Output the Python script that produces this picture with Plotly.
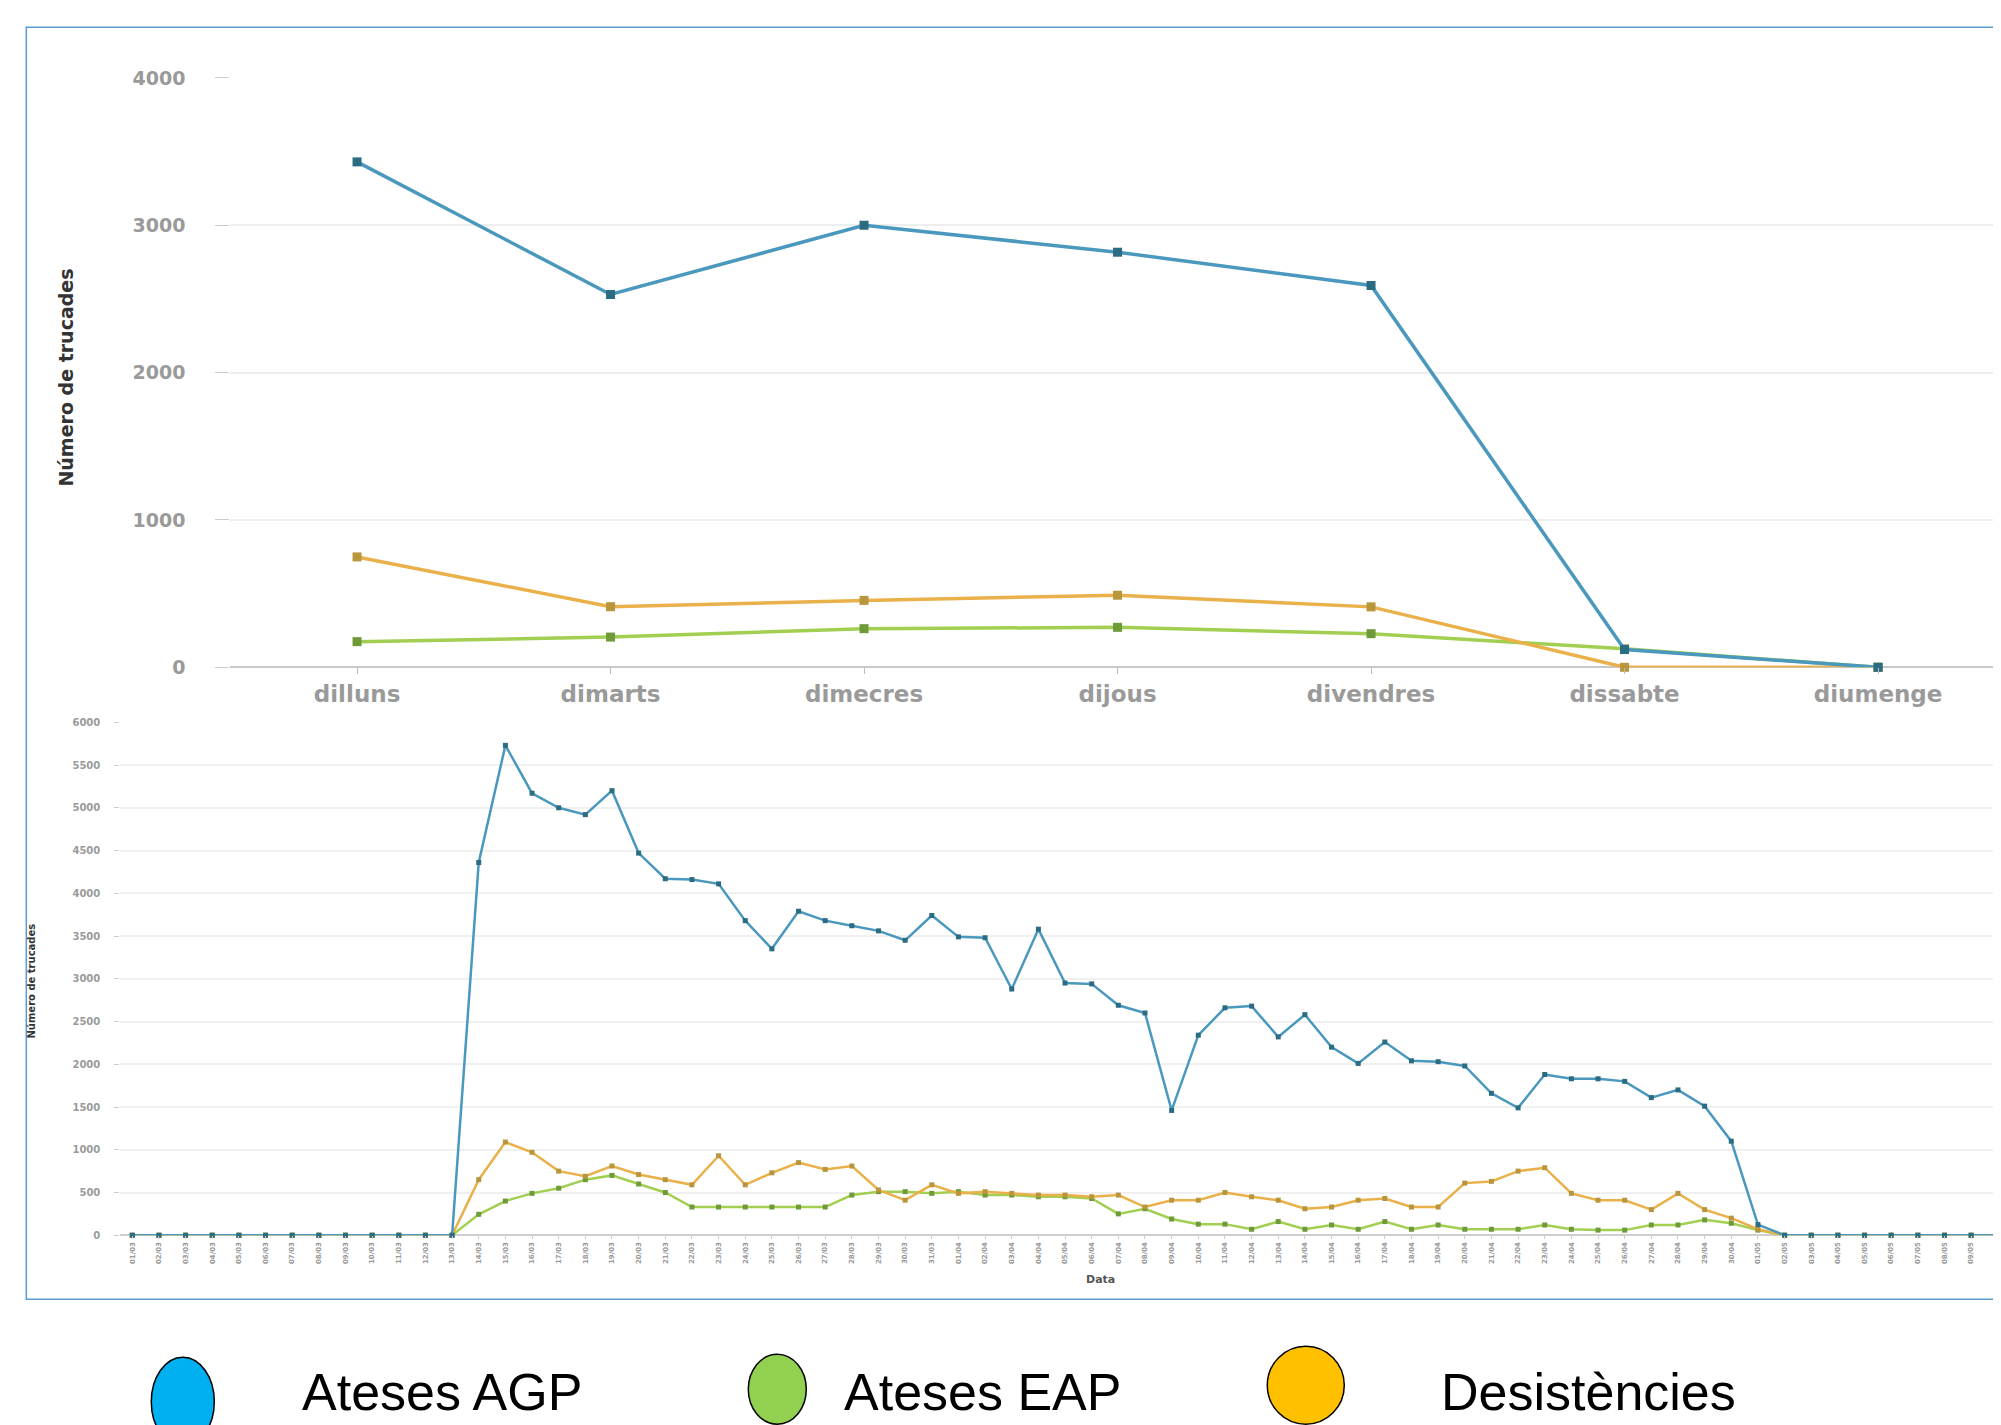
import plotly.graph_objects as go
import pandas as pd

# ---------------- data ----------------
days = ["dilluns", "dimarts", "dimecres", "dijous", "divendres", "dissabte", "diumenge"]
agp_week = [3430, 2530, 3000, 2817, 2591, 120, 0]
eap_week = [174, 205, 262, 271, 228, 125, 0]
des_week = [749, 411, 454, 489, 410, 0, 0]

dates = list(pd.date_range("2020-03-01", periods=71).strftime("%d/%m"))

agp_daily = [0, 0, 0, 0, 0, 0, 0, 0, 0, 0, 0, 0, 0,
             4360, 5730, 5170, 5000, 4920, 5200, 4470, 4170, 4160, 4110,
             3680, 3350, 3790, 3680, 3620, 3560, 3450, 3740, 3490, 3480,
             2880, 3580, 2950, 2940, 2690, 2600, 1460, 2340, 2660, 2680,
             2320, 2580, 2200, 2010, 2260, 2040, 2030, 1980, 1660, 1490,
             1880, 1830, 1830, 1800, 1610, 1700, 1510, 1100, 125,
             0, 0, 0, 0, 0, 0, 0, 0, 0]
des_daily = [0, 0, 0, 0, 0, 0, 0, 0, 0, 0, 0, 0, 0,
             650, 1090, 970, 750, 690, 810, 710, 650, 590, 930,
             590, 730, 850, 770, 810, 530, 410, 590, 490, 510,
             490, 470, 470, 450, 470, 330, 410, 410, 500, 450,
             410, 310, 330, 410, 430, 330, 330, 610, 630, 750,
             790, 490, 410, 410, 300, 490, 300, 200, 70,
             0, 0, 0, 0, 0, 0, 0, 0, 0]
eap_daily = [0, 0, 0, 0, 0, 0, 0, 0, 0, 0, 0, 0, 0,
             245, 400, 490, 550, 650, 700, 600, 500, 330, 330,
             330, 330, 330, 330, 470, 510, 510, 490, 510, 470,
             470, 450, 450, 430, 250, 310, 190, 130, 130, 70,
             160, 70, 120, 70, 160, 70, 120, 70, 70, 70,
             120, 70, 60, 60, 120, 120, 180, 140, 60,
             0, 0, 0, 0, 0, 0, 0, 0, 0]

legend_names = ["Ateses AGP", "Ateses EAP", "Desistències"]
legend_fill = ["#00B0F0", "#92D050", "#FFC000"]

# ---------------- layout helpers ----------------
W, H = 2001, 1425
DX, DY, SY = 7.7, 17.7, 0.9846   # compensation for page offset in the photographed page
def fx(r):  # target screen x (px) -> paper
    return (r - DX) / W
def fy(r):  # target screen y (px) -> paper
    return 1 - ((r - DY) / SY) / H

C_AGP, M_AGP = "#4a98bd", "#2b6c82"
C_EAP, M_EAP = "#a2cf52", "#6f9a3a"
C_DES, M_DES = "#eab04a", "#b8963e"
FONT = "Liberation Sans, Arial, sans-serif"
TICKFONT = "DejaVu Sans, Liberation Sans, sans-serif"

fig = go.Figure()

# top chart (per weekday)
for vals, lc, mc in [(eap_week, C_EAP, M_EAP), (des_week, C_DES, M_DES), (agp_week, C_AGP, M_AGP)]:
    fig.add_trace(go.Scatter(x=days, y=vals, mode="lines+markers", xaxis="x", yaxis="y",
                             line=dict(color=lc, width=3.5),
                             marker=dict(symbol="square", size=9, color=mc),
                             cliponaxis=False, showlegend=False))

# bottom chart (daily)
for vals, lc, mc in [(eap_daily, C_EAP, M_EAP), (des_daily, C_DES, M_DES), (agp_daily, C_AGP, M_AGP)]:
    fig.add_trace(go.Scatter(x=dates, y=vals, mode="lines+markers", xaxis="x2", yaxis="y2",
                             line=dict(color=lc, width=2.5),
                             marker=dict(symbol="square", size=5, color=mc),
                             cliponaxis=False, showlegend=False))

top_left = 230
bot_left = 120
fig.update_layout(
    width=W, height=H, margin=dict(l=0, r=0, t=0, b=0),
    paper_bgcolor="white", plot_bgcolor="white",
    font=dict(family=FONT),
    showlegend=False,
    xaxis=dict(domain=[fx(top_left), 1], range=[-0.5, -0.5 + (W + DX - top_left) / 253.5],
               type="category",
               showgrid=False, zeroline=False, showline=False,
               ticks="outside", ticklen=6, tickcolor="#bbbbbb",
               tickfont=dict(size=23, color="#9a9a9a", family=TICKFONT, weight="bold"),
               anchor="y"),
    yaxis=dict(domain=[fy(666), fy(76.6)], range=[0, 4000],
               tickvals=[0, 1000, 2000, 3000, 4000],
               showgrid=True, gridcolor="#eeeeee", gridwidth=2,
               zeroline=True, zerolinecolor="#c8c8c8", zerolinewidth=2,
               ticks="outside", ticklen=14, tickcolor="#cccccc",
               ticklabelstandoff=26,
               tickfont=dict(size=19, color="#9a9a9a", family=TICKFONT, weight="bold"),
               anchor="x"),
    xaxis2=dict(domain=[fx(bot_left), 1], range=[-0.45, -0.45 + (W + DX - bot_left) / 26.65],
                type="category",
                tickangle=-90, showgrid=False, zeroline=False, showline=False,
                ticks="outside", ticklen=3, tickcolor="#cccccc",
                tickfont=dict(size=7, color="#9a9a9a", family=TICKFONT, weight="bold"),
                anchor="y2"),
    yaxis2=dict(domain=[fy(1234), fy(721)], range=[0, 6000], dtick=500,
                showgrid=True, gridcolor="#f0f0f0", gridwidth=1.5,
                zeroline=True, zerolinecolor="#cfcfcf", zerolinewidth=2,
                ticks="outside", ticklen=5, tickcolor="#cccccc",
                ticklabelstandoff=12,
                tickfont=dict(size=10, color="#9a9a9a", family=TICKFONT, weight="bold"),
                anchor="x2"),
)

annotations = [
    dict(text="<b>Número de trucades</b>", x=fx(66), y=fy(376), xref="paper", yref="paper",
         textangle=-90, showarrow=False,
         font=dict(size=19, color="#333333", family=TICKFONT),
         xanchor="center", yanchor="middle"),
    dict(text="<b>Número de trucades</b>", x=fx(31), y=fy(980), xref="paper", yref="paper",
         textangle=-90, showarrow=False,
         font=dict(size=10, color="#333333", family=TICKFONT),
         xanchor="center", yanchor="middle"),
    dict(text="<b>Data</b>", x=fx(1100), y=fy(1278), xref="paper", yref="paper",
         showarrow=False, font=dict(size=11, color="#555555", family=TICKFONT),
         xanchor="center", yanchor="middle"),
]
legend_text_x = [300, 842, 1439]
for name, tx in zip(legend_names, legend_text_x):
    annotations.append(dict(text=name, x=fx(tx), y=fy(1391), xref="paper", yref="paper",
                            showarrow=False, font=dict(size=52, color="black"),
                            xanchor="left", yanchor="middle"))
fig.update_layout(annotations=annotations)

shapes = [
    dict(type="rect", xref="paper", yref="paper", x0=fx(26), x1=fx(2020), y0=fy(1298), y1=fy(26),
         line=dict(color="#5b9bd5", width=1.5), fillcolor="rgba(0,0,0,0)", layer="below"),
]
ellipses = [(151, 214, 1356, 1445), (748, 806, 1353, 1423), (1267, 1344, 1345, 1423)]
for (x0, x1, y0, y1), fc in zip(ellipses, legend_fill):
    shapes.append(dict(type="circle", xref="paper", yref="paper",
                       x0=fx(x0), x1=fx(x1), y0=fy(y1), y1=fy(y0),
                       line=dict(color="black", width=1.5), fillcolor=fc))
fig.update_layout(shapes=shapes)

fig.write_html("out.html")
